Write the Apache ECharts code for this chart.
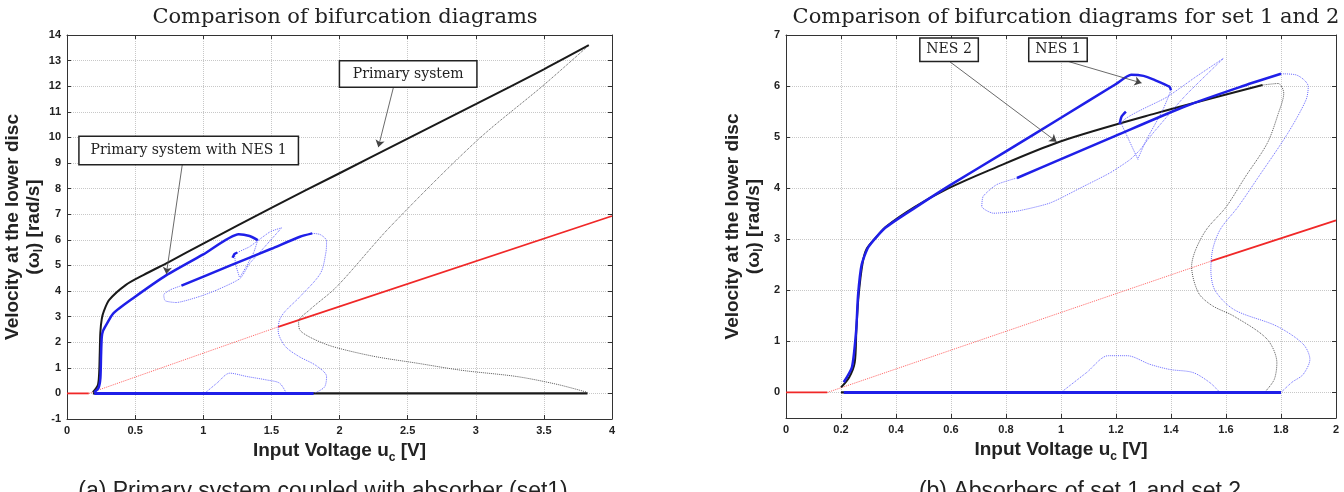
<!DOCTYPE html>
<html>
<head>
<meta charset="utf-8">
<title>Comparison of bifurcation diagrams</title>
<script src="https://cdn.jsdelivr.net/npm/echarts@6/dist/echarts.min.js"></script>
<style>
html, body { margin: 0; padding: 0; background: #fff; }
#chart { width: 1344px; height: 492px; }
</style>
</head>
<body>
<div id="chart"></div>
<script>
// ---- left panel: primary system and NES set 1 ----
const xTicksL = [0, 0.5, 1, 1.5, 2, 2.5, 3, 3.5, 4]
const yTicksL = [-1, 0, 1, 2, 3, 4, 5, 6, 7, 8, 9, 10, 11, 12, 13, 14]

const redStartL = [[0, 0], [0.16, 0]]
const redDottedL = [[0.16, 0], [1.55, 2.6]]
const redSolidL = [[1.55, 2.6], [4, 6.93]]

const primaryStableL = [[0.19, 0.05], [0.225, 0.3], [0.235, 0.7], [0.24, 1.5], [0.245, 2.4], [0.255, 2.9], [0.27, 3.2], [0.31, 3.65], [0.43, 4.23], [0.56, 4.62], [0.75, 5.14], [1, 5.85], [1.5, 7.25], [2, 8.6], [2.5, 9.95], [3, 11.3], [3.5, 12.66], [3.83, 13.6]]
const primaryUnstableL = [[3.82, 13.55], [3.5, 12.05], [3.01, 9.88], [2.37, 6.5], [1.98, 4.17], [1.78, 3.26], [1.7, 2.8], [1.71, 2.47], [1.8, 2.15], [1.95, 1.83], [2.25, 1.45], [2.57, 1.18], [2.9, 0.9], [3.3, 0.66], [3.6, 0.35], [3.82, 0.04]]
const primaryZeroL = [[0.19, 0], [3.82, 0]]

const nesUpperL = [[0.2, 0.05], [0.23, 0.2], [0.245, 0.6], [0.25, 1.5], [0.255, 2.2], [0.265, 2.45], [0.29, 2.7], [0.34, 3.13], [0.48, 3.7], [0.73, 4.62], [1, 5.43], [1.26, 6.22], [1.34, 6.15], [1.4, 5.99]]
const nesLowerL = [[0.84, 4.21], [1.2, 5.0], [1.5, 5.65], [1.71, 6.12], [1.8, 6.25]]
const nesHookL = [[1.215, 5.3], [1.23, 5.45], [1.25, 5.5]]
const nesZeroL = [[0.2, 0], [1.81, 0]]
const nesLoopOuterL = [[1.8, 6.25], [1.86, 6.2], [1.905, 5.95], [1.9, 5.5], [1.86, 4.69], [1.71, 3.78], [1.6, 3.2], [1.56, 2.87], [1.55, 2.45], [1.6, 1.85], [1.7, 1.45], [1.83, 1.08], [1.905, 0.66], [1.89, 0.25], [1.82, 0.02]]
const nesBumpL = [[1.01, 0], [1.1, 0.4], [1.195, 0.79], [1.32, 0.66], [1.46, 0.53], [1.56, 0.4], [1.61, 0]]
const nesLoopInnerL = [[0.84, 4.21], [0.76, 4.05], [0.71, 3.85], [0.72, 3.62], [0.8, 3.55], [0.97, 3.78], [1.1, 4.04], [1.27, 4.49], [1.34, 5.07], [1.44, 5.66], [1.575, 6.47], [1.49, 6.31], [1.34, 5.73], [1.23, 5.4], [1.24, 5.0], [1.265, 4.55]]
const nesHookDownL = [[1.4, 5.99], [1.37, 5.5], [1.31, 4.9], [1.27, 4.55]]

// ---- right panel: NES set 1 and set 2 ----
const xTicksR = [0, 0.2, 0.4, 0.6, 0.8, 1, 1.2, 1.4, 1.6, 1.8, 2]
const yTicksR = [0, 1, 2, 3, 4, 5, 6, 7]

const redStartR = [[0, 0], [0.15, 0]]
const redDottedR = [[0.15, 0], [1.545, 2.57]]
const redSolidR = [[1.545, 2.57], [2, 3.37]]

const nes2StableR = [[0.2, 0.1], [0.23, 0.3], [0.25, 0.59], [0.256, 1.24], [0.264, 1.9], [0.279, 2.55], [0.294, 2.82], [0.33, 3.05], [0.362, 3.24], [0.467, 3.63], [0.588, 3.99], [0.738, 4.35], [0.995, 4.91], [1.341, 5.46], [1.733, 6.02]]
const nes2UnstableR = [[1.733, 6.02], [1.79, 6.05], [1.81, 5.86], [1.79, 5.46], [1.75, 4.88], [1.67, 4.22], [1.6, 3.63], [1.53, 3.2], [1.49, 2.8], [1.475, 2.47], [1.5, 1.95], [1.55, 1.7], [1.63, 1.49], [1.75, 1.04], [1.785, 0.58], [1.775, 0.25], [1.74, 0]]
const nes2ZeroR = [[0.2, 0], [1.74, 0]]

const nesUpperR = [[0.21, 0.2], [0.24, 0.5], [0.255, 1.2], [0.262, 1.9], [0.275, 2.5], [0.3, 2.85], [0.36, 3.22], [0.47, 3.62], [0.6, 4.07], [0.8, 4.72], [1, 5.38], [1.2, 6.04], [1.255, 6.22], [1.3, 6.2], [1.34, 6.12], [1.394, 5.99], [1.4, 5.92]]
const nesLowerR = [[0.84, 4.2], [1.0, 4.57], [1.2, 5.03], [1.45, 5.6], [1.65, 5.98], [1.8, 6.24]]
const nesHookR = [[1.213, 5.25], [1.22, 5.4], [1.236, 5.5]]
const nesZeroR = [[0.21, 0], [1.8, 0]]
const nesLoopOuterR = [[1.8, 6.24], [1.854, 6.22], [1.899, 5.99], [1.891, 5.73], [1.824, 5.07], [1.718, 4.22], [1.643, 3.63], [1.58, 3.2], [1.552, 2.81], [1.545, 2.4], [1.56, 2.0], [1.63, 1.62], [1.784, 1.3], [1.88, 0.95], [1.905, 0.65], [1.88, 0.35], [1.84, 0.2], [1.8, 0]]
const nesBumpR = [[1.0, 0], [1.093, 0.39], [1.172, 0.72], [1.24, 0.72], [1.324, 0.55], [1.396, 0.45], [1.48, 0.39], [1.542, 0.19], [1.578, 0]]
const nesLoopInnerR = [[0.84, 4.2], [0.766, 4.07], [0.717, 3.84], [0.712, 3.64], [0.754, 3.51], [0.839, 3.55], [0.96, 3.71], [1.08, 4.03], [1.178, 4.3], [1.251, 4.56], [1.287, 4.75], [1.324, 5.01], [1.45, 5.8], [1.59, 6.54], [1.49, 6.18], [1.387, 5.79], [1.22, 5.27], [1.236, 5.07], [1.281, 4.55]]
const nesHookDownR = [[1.4, 5.92], [1.37, 5.53], [1.31, 4.94], [1.28, 4.58]]

const BLACK = '#1a1a1a'
const BLUE = '#1f1fe8'
const BLUE_LIGHT = '#5a5aff'
const RED = '#f02828'
const RED_LIGHT = '#ff6060'
const GRAY_DOT = '#555'
const SANS = "'Liberation Sans Narrow', 'Liberation Sans', Arial, sans-serif"
const SERIF = "'DejaVu Serif', 'Liberation Serif', serif"

const myChart = echarts.init(document.getElementById('chart'))

function curve (data, panel, color, width, type, smooth, opacity) {
    return {
        type: 'line',
        xAxisIndex: panel * 2,
        yAxisIndex: panel * 2,
        data: data,
        symbol: 'none',
        smooth: smooth || false,
        silent: true,
        lineStyle: {
            color: color,
            width: width,
            type: type,
            opacity: opacity === undefined ? 1 : opacity
        }
    }
}

// text boxes with arrows pointing at a branch
function boxes (items, panel) {
    return {
        type: 'line',
        xAxisIndex: panel * 2,
        yAxisIndex: panel * 2,
        data: [],
        silent: true,
        z: 5,
        markLine: {
            symbol: ['none', 'arrow'],
            symbolSize: 7,
            silent: true,
            animation: false,
            label: { show: false },
            lineStyle: { color: '#444', width: 0.8, type: 'solid' },
            data: items.map(a => [{ coord: a.from }, { coord: a.to }])
        },
        markPoint: {
            silent: true,
            animation: false,
            data: items.map(a => ({
                coord: a.at,
                symbol: 'circle',
                symbolSize: 1,
                itemStyle: { color: 'rgba(0,0,0,0)' },
                label: {
                    show: true,
                    position: 'inside',
                    formatter: a.text,
                    color: '#222',
                    fontFamily: SERIF,
                    fontSize: 14,
                    width: a.size[0],
                    height: a.size[1],
                    lineHeight: a.size[1],
                    align: 'center',
                    verticalAlign: 'middle',
                    backgroundColor: '#fff',
                    borderColor: '#222',
                    borderWidth: 1.5,
                    padding: 0
                }
            }))
        }
    }
}

function xAxes (grid, min, max, interval) {
    return [
        {
            type: 'value', gridIndex: grid, min: min, max: max, interval: interval,
            name: '{a|Input Voltage u}{s|c}{a| [V]}',
            nameLocation: 'middle',
            nameGap: 15,
            nameTextStyle: {
                rich: {
                    a: { fontFamily: SANS, fontWeight: 'bold', fontSize: 19, color: '#222' },
                    s: { fontFamily: SANS, fontWeight: 'bold', fontSize: 12, color: '#222', padding: [14, 0, 0, 0] }
                }
            },
            axisLine: { show: true, onZero: false, lineStyle: { color: '#333' } },
            axisTick: { show: true, inside: true, length: 4, lineStyle: { color: '#333' } },
            axisLabel: {
                fontFamily: SANS, fontWeight: 'bold', fontSize: 11, color: '#222', margin: 6,
                formatter: v => String(v)
            },
            splitLine: { show: true, lineStyle: { color: '#c8c8c8', type: 'dotted' } }
        },
        {
            type: 'value', gridIndex: grid, position: 'top', min: min, max: max, interval: interval,
            axisLine: { show: true, onZero: false, lineStyle: { color: '#333' } },
            axisTick: { show: true, inside: true, length: 4, lineStyle: { color: '#333' } },
            axisLabel: { show: false },
            splitLine: { show: false }
        }
    ]
}

function yAxes (grid, min, max, ticks, interval) {
    const yName = '{a|Velocity at the lower disc}\n{a|(ω}{s|l}{a|) [rad/s]}'
    const main = {
        type: 'value', gridIndex: grid, min: min, max: max,
        name: yName,
        nameLocation: 'middle',
        nameGap: 22,
        nameTextStyle: {
            lineHeight: 21,
            rich: {
                a: { fontFamily: SANS, fontWeight: 'bold', fontSize: 19, color: '#222', lineHeight: 21 },
                s: { fontFamily: SANS, fontWeight: 'bold', fontSize: 12, color: '#222', lineHeight: 21, padding: [10, 0, 0, 0] }
            }
        },
        axisLine: { show: true, onZero: false, lineStyle: { color: '#333' } },
        axisTick: { show: true, inside: true, length: 4, lineStyle: { color: '#333' } },
        axisLabel: { fontFamily: SANS, fontWeight: 'bold', fontSize: 11, color: '#222', margin: 6 },
        splitLine: { show: true, lineStyle: { color: '#c8c8c8', type: 'dotted' } }
    }
    const mirror = {
        type: 'value', gridIndex: grid, position: 'right', min: min, max: max,
        axisLine: { show: true, onZero: false, lineStyle: { color: '#333' } },
        axisTick: { show: true, inside: true, length: 4, lineStyle: { color: '#333' } },
        axisLabel: { show: false },
        splitLine: { show: false }
    }
    if (interval) {
        main.interval = interval
        mirror.interval = interval
    } else {
        main.axisLabel.customValues = ticks
        main.axisTick.customValues = ticks
        mirror.axisTick.customValues = ticks
    }
    return [main, mirror]
}

const notesL = [
    { text: 'Primary system', at: [2.504, 12.48], size: [136, 25], from: [2.396, 11.96], to: [2.285, 9.62] },
    { text: 'Primary system with NES 1', at: [0.893, 9.49], size: [218, 27], from: [0.847, 8.97], to: [0.729, 4.66] }
]
const notesR = [
    { text: 'NES 2', at: [0.593, 6.71], size: [57, 22], from: [0.59, 6.5], to: [0.984, 4.91] },
    { text: 'NES 1', at: [0.989, 6.71], size: [57, 22], from: [0.996, 6.53], to: [1.293, 6.06] }
]

myChart.setOption({
    animation: false,
    title: [
        {
            text: 'Comparison of bifurcation diagrams',
            left: 340, top: 2, textAlign: 'center',
            textStyle: { fontFamily: SERIF, fontWeight: 'normal', fontSize: 21, color: '#222' }
        },
        {
            text: 'Comparison of bifurcation diagrams for set 1 and 2',
            left: 1061, top: 2, textAlign: 'center',
            textStyle: { fontFamily: SERIF, fontWeight: 'normal', fontSize: 21, color: '#222' }
        }
    ],
    grid: [
        { left: 67, right: 732, top: 35, bottom: 73, show: false },
        { left: 786, right: 8, top: 35, bottom: 74, show: false }
    ],
    xAxis: [
        ...xAxes(0, xTicksL[0], xTicksL[xTicksL.length - 1], 0.5),
        ...xAxes(1, xTicksR[0], xTicksR[xTicksR.length - 1], 0.2)
    ],
    yAxis: [
        ...yAxes(0, yTicksL[0], yTicksL[yTicksL.length - 1], yTicksL, 1),
        ...yAxes(1, -0.5, yTicksR[yTicksR.length - 1], yTicksR, null)
    ],
    graphic: [
        {
            type: 'text', x: 323, y: 480,
            style: { text: '(a) Primary system coupled with absorber (set1)', fontFamily: "'Liberation Sans', sans-serif", fontSize: 23, fill: '#222', textAlign: 'center', textVerticalAlign: 'top' }
        },
        {
            type: 'text', x: 1080, y: 480,
            style: { text: '(b) Absorbers of set 1 and set 2', fontFamily: "'Liberation Sans', sans-serif", fontSize: 23, fill: '#222', textAlign: 'center', textVerticalAlign: 'top' }
        }
    ],
    series: [
        // left panel
        curve(redStartL, 0, RED, 1.8, 'solid'),
        curve(redDottedL, 0, RED_LIGHT, 1, 'dotted'),
        curve(redSolidL, 0, RED, 1.8, 'solid'),
        curve(primaryUnstableL, 0, GRAY_DOT, 1, 'dotted', 0.3),
        curve(primaryZeroL, 0, BLACK, 2.2, 'solid'),
        curve(primaryStableL, 0, BLACK, 2, 'solid', 0.3),
        curve(nesLoopOuterL, 0, BLUE_LIGHT, 1, 'dotted', 0.3, 0.9),
        curve(nesBumpL, 0, BLUE_LIGHT, 1, 'dotted', 0.3, 0.9),
        curve(nesLoopInnerL, 0, BLUE_LIGHT, 1, 'dotted', 0.2, 0.9),
        curve(nesHookDownL, 0, BLUE_LIGHT, 1, 'dotted', 0.2, 0.9),
        curve(nesZeroL, 0, BLUE, 3, 'solid'),
        curve(nesUpperL, 0, BLUE, 2.5, 'solid', 0.2),
        curve(nesLowerL, 0, BLUE, 2.5, 'solid', 0.2),
        curve(nesHookL, 0, BLUE, 2.5, 'solid', 0.2),
        boxes(notesL, 0),
        // right panel
        curve(redStartR, 1, RED, 1.8, 'solid'),
        curve(redDottedR, 1, RED_LIGHT, 1, 'dotted'),
        curve(redSolidR, 1, RED, 1.8, 'solid'),
        curve(nes2UnstableR, 1, GRAY_DOT, 1, 'dotted', 0.3),
        curve(nes2ZeroR, 1, BLACK, 2.2, 'solid'),
        curve(nes2StableR, 1, BLACK, 2, 'solid', 0.3),
        curve(nesLoopOuterR, 1, BLUE_LIGHT, 1, 'dotted', 0.3, 0.9),
        curve(nesBumpR, 1, BLUE_LIGHT, 1, 'dotted', 0.3, 0.9),
        curve(nesLoopInnerR, 1, BLUE_LIGHT, 1, 'dotted', 0.2, 0.9),
        curve(nesHookDownR, 1, BLUE_LIGHT, 1, 'dotted', 0.2, 0.9),
        curve(nesZeroR, 1, BLUE, 3, 'solid'),
        curve(nesUpperR, 1, BLUE, 2.5, 'solid', 0.2),
        curve(nesLowerR, 1, BLUE, 2.5, 'solid', 0.2),
        curve(nesHookR, 1, BLUE, 2.5, 'solid', 0.2),
        boxes(notesR, 1)
    ]
})
</script>
</body>
</html>
